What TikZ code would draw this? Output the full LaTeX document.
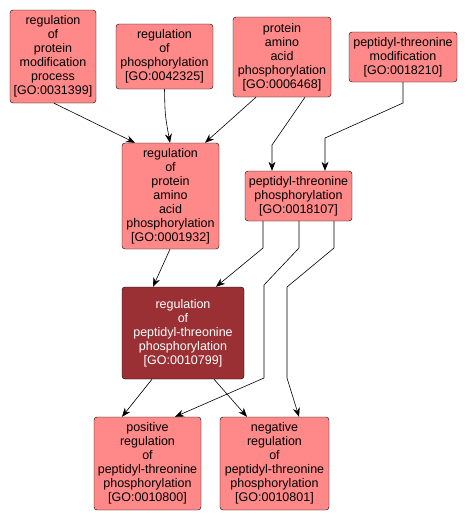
\documentclass[tikz,border=0pt]{standalone}
\usepackage{fontspec}
\setmainfont{Liberation Sans}
\usepackage{tikz}
\usetikzlibrary{arrows.meta}
\usetikzlibrary{positioning}
\definecolor{termfill}{HTML}{FF8888}
\definecolor{focusfill}{HTML}{9A3033}
\tikzset{term/.style = {draw, fill=termfill, rounded corners=3pt, align=center,
                        inner sep=0pt, font=\fontsize{12.5}{14}\selectfont},
         focus/.style = {term, fill=focusfill, text=white},
         link/.style = {-{Stealth[length=9pt,width=7pt]}, line width=0.6pt}}

\begin{document}
\begin{tikzpicture}[x=1pt, y=-1pt]
      \useasboundingbox (0, 0) rectangle (467, 522);
      \node [term, minimum width=86, minimum height=93] (protmod) at (53, 56.5)
            {regulation\\of\\protein\\modification\\process\\{[GO:0031399]}};
      \node [term, minimum width=97, minimum height=65] (phos) at (164.5, 56.5)
            {regulation\\of\\phosphorylation\\{[GO:0042325]}};
      \node [term, minimum width=98, minimum height=80] (aaphos) at (282, 57)
            {protein\\amino\\acid\\phosphorylation\\{[GO:0006468]}};
      \node [term, minimum width=108, minimum height=50] (thrmod) at (403, 57)
            {peptidyl-threonine\\modification\\{[GO:0018210]}};
      \node [term, minimum width=97, minimum height=106] (regaa) at (170.5, 196)
            {regulation\\of\\protein\\amino\\acid\\phosphorylation\\{[GO:0001932]}};
      \node [term, minimum width=107, minimum height=50] (thrphos) at (298.5, 196)
            {peptidyl-threonine\\phosphorylation\\{[GO:0018107]}};
      \node [focus, minimum width=122, minimum height=92] (regthr) at (183, 333)
            {regulation\\of\\peptidyl-threonine\\phosphorylation\\{[GO:0010799]}};
      \node [term, minimum width=107, minimum height=93] (posthr) at (147.5, 463.5)
            {positive\\regulation\\of\\peptidyl-threonine\\phosphorylation\\{[GO:0010800]}};
      \node [term, minimum width=109, minimum height=93] (negthr) at (274.5, 463.5)
            {negative\\regulation\\of\\peptidyl-threonine\\phosphorylation\\{[GO:0010801]}};
      % edges into the upper middle row
      \draw [link] ([xshift=1]protmod.south) -- ([xshift=-35.5]regaa.north);
      \draw [link] (phos.south) .. controls (165, 115) .. ([xshift=-0.5]regaa.north);
      \draw [link] ([xshift=-26]aaphos.south) -- ([xshift=34.5]regaa.north);
      \draw [link] ([xshift=23]aaphos.south) -- (272, 145) -- ([xshift=-26.5]thrphos.north);
      \draw [link] (thrmod.south) -- (403, 103) -- (325, 138) -- ([xshift=26.5]thrphos.north);
      % edges into the focus term
      \draw [link] ([xshift=-0.5]regaa.south) -- ([xshift=-30]regthr.north);
      \draw [link] ([xshift=-35.5]thrphos.south) -- (263, 248) -- ([xshift=33]regthr.north);
      % edges into the bottom row
      \draw [link] ([xshift=0.5]thrphos.south) -- (299, 248) -- (264, 285) -- (264, 378)
            -- ([xshift=27.5]posthr.north);
      \draw [link] ([xshift=35.5]thrphos.south) -- (334, 248) -- (287, 287) -- (287, 378)
            -- ([xshift=24.5]negthr.north);
      \draw [link] ([xshift=-31]regthr.south) -- ([xshift=-25.5]posthr.north);
      \draw [link] ([xshift=31]regthr.south) -- ([xshift=-27.5]negthr.north);
    \end{tikzpicture}
\end{document}
